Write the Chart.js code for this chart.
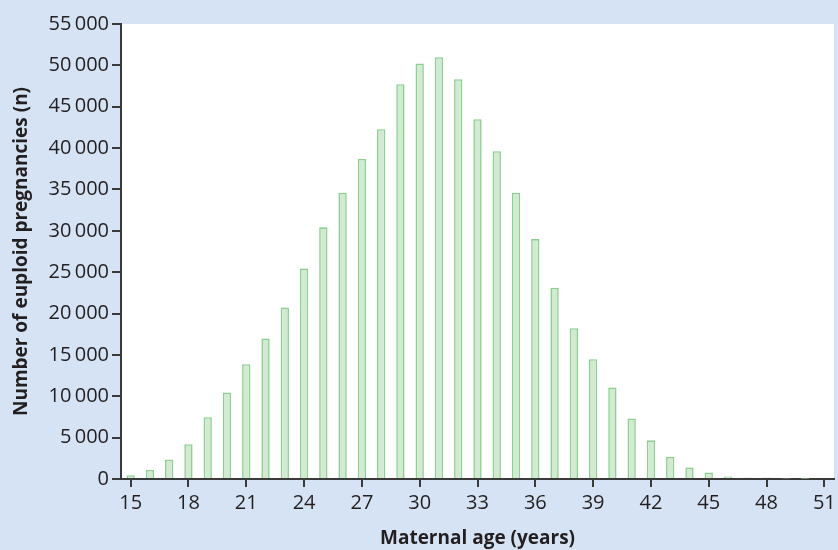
<!DOCTYPE html>
<html>
<head>
<meta charset="utf-8">
<script src="https://cdn.jsdelivr.net/npm/chart.js@4"></script>
<style>
  html, body { margin: 0; padding: 0; background: #d5e3f5; }
  #wrap { width: 838px; height: 550px; }
</style>
</head>
<body>
<div id="wrap"><canvas id="chart" width="838" height="550"></canvas></div>
<script>
// maternal age in years, 15 to 51
const ages = [15, 16, 17, 18, 19, 20, 21, 22, 23, 24, 25, 26, 27, 28, 29, 30, 31, 32, 33,
              34, 35, 36, 37, 38, 39, 40, 41, 42, 43, 44, 45, 46, 47, 48, 49, 50, 51];
// number of euploid pregnancies per age
const pregnancies = [450, 1090, 2350, 4200, 7470, 10450, 13880, 16990, 20740, 25460, 30420,
                     34610, 38680, 42280, 47720, 50220, 50990, 48330, 43490, 39620, 34610,
                     29000, 23110, 18230, 14480, 11060, 7300, 4680, 2660, 1380, 775, 290,
                     170, 170, 60, 40, 0];
const yTicks = [0, 5000, 10000, 15000, 20000, 25000, 30000, 35000, 40000, 45000, 50000, 55000];

const ink = '#231f20';
const axisCol = '#3a3a3a';

function fmt(v) {
    if (v < 1000) return String(v);
    const s = String(v);
    return s.slice(0, s.length - 3) + '\u2009' + s.slice(-3);
}

const plotBg = {
    id: 'plotBg',
    beforeDraw(chart) {
        const { ctx, chartArea: a } = chart;
        ctx.save();
        ctx.fillStyle = '#ffffff';
        ctx.fillRect(a.left, a.top, a.right - a.left, a.bottom - a.top);
        ctx.restore();
    }
};

const chart = new Chart(document.getElementById('chart'), {
    type: 'bar',
    data: {
        labels: ages,
        datasets: [{
            label: 'Euploid pregnancies',
            data: pregnancies,
            backgroundColor: '#d3ead2',
            borderColor: '#8dcf8f',
            borderWidth: 1.6,
            barPercentage: 0.9,
            categoryPercentage: 0.48
        }]
    },
    options: {
        responsive: false,
        animation: false,
        layout: { padding: { top: 24, right: 4, left: 0, bottom: 0 } },
        plugins: { legend: { display: false }, tooltip: { enabled: false } },
        scales: {
            x: {
                afterFit(scale) { scale.height = 71; scale.paddingRight = 0; scale.paddingLeft = 0; },
                grid: { display: true, drawOnChartArea: false, offset: false, tickLength: 8, color: axisCol, lineWidth: 2 },
                border: { display: true, color: axisCol, width: 2 },
                ticks: {
                    autoSkip: false,
                    maxRotation: 0,
                    padding: 4,
                    color: ink,
                    font: { family: 'Open Sans', size: 20 },
                    callback(value, i) {
                        const a = ages[i];
                        return (a - 15) % 3 === 0 ? String(a) : null;
                    }
                },
                title: {
                    display: true,
                    text: 'Maternal age (years)',
                    color: ink,
                    font: { family: 'Open Sans', size: 19, weight: 'bold' },
                    padding: { top: 0, bottom: 0 }
                }
            },
            y: {
                min: 0,
                max: 55000,
                afterFit(scale) { scale.width = 121; scale.paddingTop = 0; scale.paddingBottom = 0; },
                afterBuildTicks(scale) { scale.ticks = yTicks.map(v => ({ value: v })); },
                grid: { display: true, drawOnChartArea: false, tickLength: 9, color: axisCol, lineWidth: 2 },
                border: { display: true, color: axisCol, width: 2 },
                ticks: {
                    padding: 3,
                    color: ink,
                    font: { family: 'Open Sans', size: 20 },
                    callback: v => fmt(v)
                },
                title: {
                    display: true,
                    text: 'Number of euploid pregnancies (n)',
                    color: ink,
                    font: { family: 'Open Sans', size: 19, weight: 'bold' },
                    padding: { top: 10, bottom: 0 }
                }
            }
        }
    },
    plugins: [plotBg]
});
</script>
</body>
</html>
